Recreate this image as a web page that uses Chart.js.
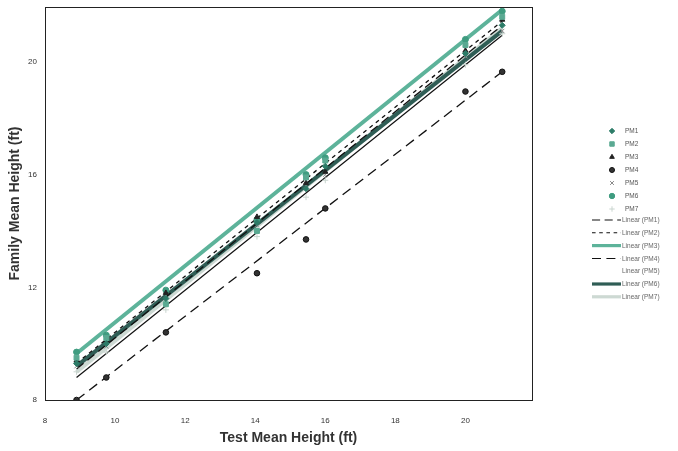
<!DOCTYPE html>
<html lang="en">
<head>
    <meta charset="UTF-8">
    <title>Family vs Test Mean Height</title>
    <script src="https://cdn.jsdelivr.net/npm/chart.js"></script>
    <style>
        body { margin: 0; background: #fff; }
        #wrap { width: 678px; height: 451px; }
    </style>
</head>
<body>
    <div id="wrap"><canvas id="myChart"></canvas></div>
    <script>
        // test mean heights (x) shared by every family series
        const testMean = [8.9, 9.75, 11.45, 14.05, 15.45, 16.0, 20.0, 21.05];

        // family mean heights per series
        const pm1 = [9.3, 10.0, 11.6, 14.3, 15.5, 16.3, 20.3, 21.3];
        const pm2 = [9.5, 10.2, 11.4, 14.0, 15.9, 16.5, 20.6, 21.6];
        const pm3 = [9.4, 10.1, 11.8, 14.5, 15.7, 16.1, 20.4, 21.5];
        const pm4 = [8.0, 8.8, 10.4, 12.5, 13.7, 14.8, 18.95, 19.65];
        const pm5 = [9.2, 9.9, 11.7, 14.2, 15.6, 16.0, 20.2, 21.1];
        const pm6 = [9.7, 10.3, 11.9, 14.4, 16.0, 16.6, 20.8, 21.8];
        const pm7 = [9.0, 9.7, 11.2, 13.8, 15.2, 15.8, 19.9, 21.0];

        // linear trend lines: value at first and last test mean
        const trendX = [8.9, 21.05];
        const linPM1 = [9.1, 21.3];
        const linPM2 = [9.3, 21.45];
        const linPM3 = [9.65, 21.85];
        const linPM4 = [8.0, 19.65];
        const linPM5 = [8.8, 20.95];
        const linPM6 = [9.2, 21.1];
        const linPM7 = [9.0, 21.2];

        const xTicks = [8, 10, 12, 14, 16, 18, 20];
        const yTicks = [8, 12, 16, 20];

        const pointNames = ['PM1', 'PM2', 'PM3', 'PM4', 'PM5', 'PM6', 'PM7'];
        const pointSeries = [pm1, pm2, pm3, pm4, pm5, pm6, pm7];
        const lineNames = ['Linear (PM1)', 'Linear (PM2)', 'Linear (PM3)', 'Linear (PM4)',
                           'Linear (PM5)', 'Linear (PM6)', 'Linear (PM7)'];
        const lineSeries = [linPM1, linPM2, linPM3, linPM4, linPM5, linPM6, linPM7];

        const pointStyles = [
            { style: 'rectRot',  color: '#2c7b67', border: '#2c7b67', r: 3 },
            { style: 'rect',     color: '#5aa992', border: '#5aa992', r: 3.5 },
            { style: 'triangle', color: '#222',    border: '#222',    r: 3 },
            { style: 'circle',   color: '#333',    border: '#111',    r: 2.8 },
            { style: 'crossRot', color: '#999',    border: '#8a8a8a', r: 3 },
            { style: 'circle',   color: '#3f9c80', border: '#3f9c80', r: 3 },
            { style: 'cross',    color: '#c9d5cf', border: '#c9d5cf', r: 3 }
        ];
        const lineStyles = [
            { color: '#111',    width: 1.3, dash: [9, 5] },
            { color: '#111',    width: 1.3, dash: [4, 4] },
            { color: '#5db39a', width: 4,   dash: [] },
            { color: '#111',    width: 1.3, dash: [10, 6] },
            { color: '#111',    width: 1.2, dash: [] },
            { color: '#2f5d55', width: 4,   dash: [] },
            { color: '#cdd9d3', width: 4,   dash: [] }
        ];

        const datasets = [];
        // draw order: thick lines, thin lines, then markers on top
        const lineOrder = [6, 5, 2, 4, 0, 1, 3];
        lineOrder.forEach(i => {
            const s = lineStyles[i];
            datasets.push({
                type: 'line',
                label: lineNames[i],
                data: trendX.map((x, k) => ({ x: x, y: lineSeries[i][k] })),
                borderColor: s.color,
                borderWidth: s.width,
                borderDash: s.dash,
                pointRadius: 0,
                fill: false,
                order: 10 + i
            });
        });
        pointSeries.forEach((vals, i) => {
            const s = pointStyles[i];
            datasets.push({
                type: 'scatter',
                label: pointNames[i],
                data: testMean.map((x, k) => ({ x: x, y: vals[k] })),
                pointStyle: s.style,
                pointRadius: s.r,
                backgroundColor: s.color,
                borderColor: s.border,
                borderWidth: 1,
                order: i
            });
        });

        // frame round the plot area + hand made legend on the right
        const framePlugin = {
            id: 'frame',
            afterDraw(chart) {
                const { ctx, chartArea: a } = chart;
                ctx.save();
                ctx.strokeStyle = '#222';
                ctx.lineWidth = 1;
                ctx.strokeRect(a.left + 0.5, a.top + 0.5, a.right - a.left, a.bottom - a.top);

                ctx.font = '6.5px "Liberation Sans", Arial, sans-serif';
                ctx.textBaseline = 'middle';
                ctx.fillStyle = '#555';
                pointNames.forEach((name, i) => {
                    const y = 131 + i * 13;
                    const s = pointStyles[i];
                    ctx.fillStyle = s.color;
                    ctx.strokeStyle = s.border;
                    Chart.helpers.drawPoint(ctx, { pointStyle: s.style, radius: s.r * 0.9, borderWidth: 1 }, 612, y);
                    ctx.fillStyle = '#555';
                    ctx.fillText(name, 625, y + 0.5);
                });
                lineNames.forEach((name, i) => {
                    const y = 220 + i * 12.8;
                    const s = lineStyles[i];
                    if (i !== 4) {
                        ctx.beginPath();
                        ctx.setLineDash(s.dash.map(d => d * 0.9));
                        ctx.strokeStyle = s.color;
                        ctx.lineWidth = s.width * 0.8;
                        ctx.moveTo(592, y);
                        ctx.lineTo(621, y);
                        ctx.stroke();
                        ctx.setLineDash([]);
                    }
                    ctx.fillStyle = '#666';
                    ctx.fillText(name, 622, y + 0.5);
                });
                ctx.restore();
            }
        };

        const fontFam = '"Liberation Sans", Arial, Helvetica, sans-serif';
        const ctx = document.getElementById('myChart').getContext('2d');
        const myChart = new Chart(ctx, {
            data: { datasets: datasets },
            options: {
                responsive: true,
                maintainAspectRatio: false,
                animation: false,
                layout: { padding: { top: 7, right: 146, left: 7, bottom: 4 } },
                plugins: {
                    legend: { display: false },
                    tooltip: { enabled: false }
                },
                scales: {
                    x: {
                        type: 'linear',
                        min: 8,
                        max: 21.9,
                        afterBuildTicks: s => { s.ticks = xTicks.map(v => ({ value: v })); },
                        afterFit: s => { s.height = 47; s.paddingLeft = 0; s.paddingRight = 0; },
                        grid: { display: false, drawTicks: false },
                        border: { display: false },
                        ticks: {
                            padding: 16,
                            color: '#333',
                            font: { family: fontFam, size: 8 }
                        },
                        title: {
                            display: true,
                            text: 'Test Mean Height (ft)',
                            color: '#333',
                            font: { family: fontFam, size: 14, weight: 'bold' },
                            padding: { top: 2, bottom: 0 }
                        }
                    },
                    y: {
                        type: 'linear',
                        min: 8,
                        max: 21.95,
                        afterBuildTicks: s => { s.ticks = yTicks.map(v => ({ value: v })); },
                        afterFit: s => { s.width = 38; s.paddingTop = 0; s.paddingBottom = 0; },
                        grid: { display: false, drawTicks: false },
                        border: { display: false },
                        ticks: {
                            padding: 8,
                            color: '#333',
                            font: { family: fontFam, size: 8 }
                        },
                        title: {
                            display: true,
                            text: 'Family Mean Height (ft)',
                            color: '#333',
                            font: { family: fontFam, size: 14, weight: 'bold' },
                            padding: { top: 0, bottom: 2 }
                        }
                    }
                }
            },
            plugins: [framePlugin]
        });
    </script>
</body>
</html>
